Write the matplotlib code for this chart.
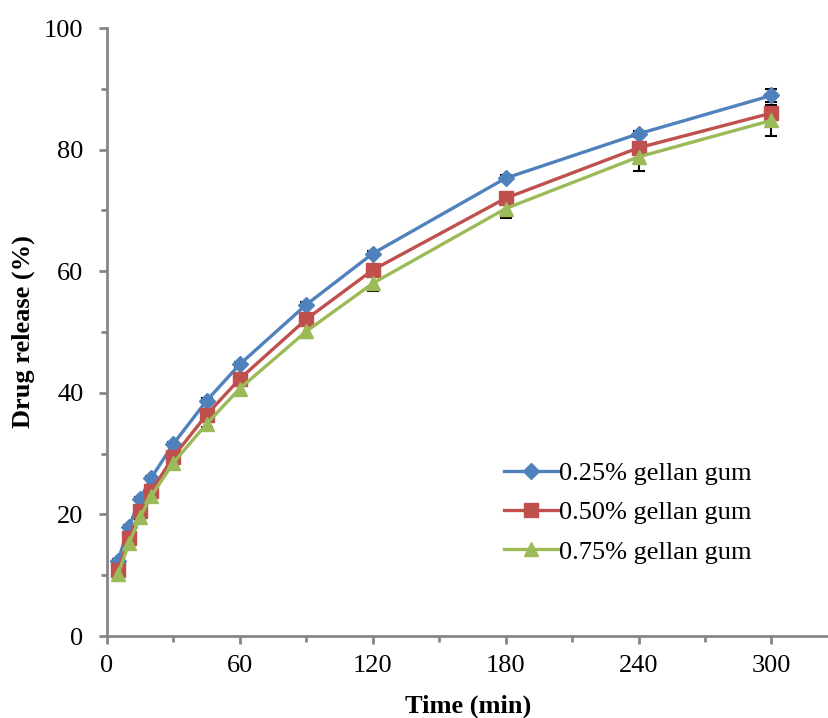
import matplotlib
matplotlib.use("Agg")
import matplotlib.pyplot as plt
from matplotlib.ticker import MultipleLocator

plt.rcParams['font.family'] = ['Liberation Serif', 'DejaVu Serif']

# release profile, sampling times in minutes
time_min = [5, 10, 15, 20, 30, 45, 60, 90, 120, 180, 240, 300]
labels = ["0.25% gellan gum", "0.50% gellan gum", "0.75% gellan gum"]
release_025 = [12.4, 18.0, 22.6, 26.0, 31.6, 38.7, 44.7, 54.5, 62.9, 75.3, 82.6, 88.9]
release_050 = [10.9, 16.1, 20.6, 23.8, 29.5, 36.4, 42.3, 52.1, 60.2, 72.0, 80.3, 86.0]
release_075 = [10.2, 15.3, 19.6, 23.0, 28.5, 34.9, 40.7, 50.1, 58.0, 70.3, 78.8, 84.8]
sd_025 = [0.2, 0.2, 0.3, 0.3, 0.3, 0.4, 0.4, 0.4, 0.5, 0.5, 0.5, 1.1]
sd_050 = [0.2, 0.3, 0.3, 0.3, 0.4, 0.4, 0.4, 0.5, 0.5, 0.6, 0.6, 0.8]
sd_075 = [0.3, 0.3, 0.4, 0.4, 0.5, 0.6, 0.7, 1.1, 1.2, 1.5, 2.3, 2.6]

colors = ['#4F81BD', '#C0504D', '#9BBB59']
markers = ['D', 's', '^']
msizes = [8.5, 10, 10.5]

fig = plt.figure(figsize=(8.29, 7.18), dpi=100)
ax = fig.add_axes([0.129, 0.1142, 0.871, 0.8468])

series = [release_025, release_050, release_075]
errors = [sd_025, sd_050, sd_075]
for y, err in zip(series, errors):
    ax.errorbar(time_min, y, yerr=err, fmt='none', ecolor='black',
                elinewidth=1.5, capsize=4.5, capthick=1.5, zorder=2)
for y, c, m, ms, lab in zip(series, colors, markers, msizes, labels):
    ax.plot(time_min, y, color=c, marker=m, markersize=ms, linewidth=2.4,
            label=lab, zorder=3)

ax.set_xlim(0, 326)
ax.set_ylim(0, 100)
ax.xaxis.set_major_locator(MultipleLocator(60))
ax.xaxis.set_minor_locator(MultipleLocator(30))
ax.yaxis.set_major_locator(MultipleLocator(20))
ax.yaxis.set_minor_locator(MultipleLocator(10))

for side in ['top', 'right']:
    ax.spines[side].set_visible(False)
for side in ['left', 'bottom']:
    ax.spines[side].set_color('#868686')
    ax.spines[side].set_linewidth(2)
ax.tick_params(which='major', color='#868686', width=2, length=6,
               labelsize=19, pad=8)
ax.tick_params(axis='y', which='major', pad=11)
ax.tick_params(which='minor', color='#868686', width=2, length=4)

ax.set_xlabel("Time (min)", fontsize=19, fontweight='bold', labelpad=12)
ax.set_ylabel("Drug release (%)", fontsize=19, fontweight='bold', labelpad=6)

ax.legend(loc='upper left', bbox_to_anchor=(0.517, 0.326), frameon=False,
          fontsize=19, handlelength=2.05, handletextpad=0.05, labelspacing=0.6)

fig.savefig("out.png", dpi=100)
